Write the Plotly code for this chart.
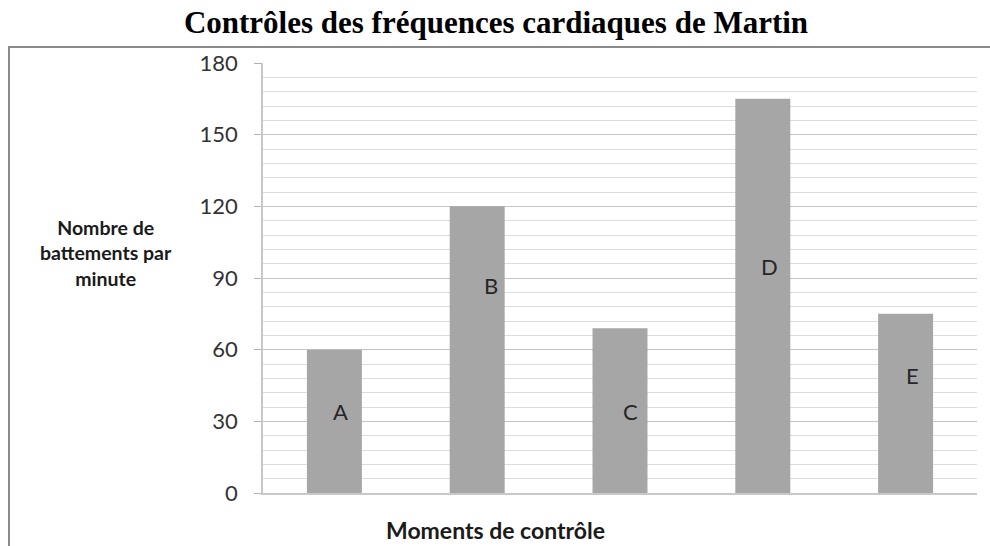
import plotly.graph_objects as go

categories = ["A", "B", "C", "D", "E"]
values = [60, 120, 69, 165, 75]
label_heights = [34, 87, 34, 95, 49]
label_shifts = [6, 14, 10, 7, 7]
y_ticks = [0, 30, 60, 90, 120, 150, 180]

W, H = 990, 546
L, R, T, B = 263, 13, 63, 53
pw, ph = W - L - R, H - T - B

def px_x(p):
    return (p - L) / pw

def px_y(p):
    return (H - B - p) / ph

fig = go.Figure()
fig.add_trace(go.Bar(
    x=categories, y=values, width=0.385,
    marker=dict(color="#a6a6a6", line=dict(width=0)),
    hoverinfo="x+y",
))

for c, h, s in zip(categories, label_heights, label_shifts):
    fig.add_annotation(x=c, y=h, text=c, showarrow=False, xshift=s,
                       font=dict(family="Lato", size=22, color="#262626"))

fig.add_annotation(xref="paper", yref="paper", x=px_x(106), y=px_y(253),
                   xanchor="center", yanchor="middle",
                   text="<b>Nombre de<br>battements par<br>minute</b>", showarrow=False,
                   align="center", font=dict(family="Lato", size=19.5, color="#1a1a1a"))
fig.add_annotation(xref="paper", yref="paper", x=px_x(495), y=px_y(530),
                   xanchor="center", yanchor="middle",
                   text="<b>Moments de contrôle</b>", showarrow=False,
                   font=dict(family="Lato", size=23, color="#1a1a1a"))

fig.add_shape(type="rect", xref="paper", yref="paper",
              x0=px_x(9), x1=px_x(1000), y0=px_y(560), y1=px_y(47),
              line=dict(color="#8a8a8a", width=2), fillcolor="rgba(0,0,0,0)", layer="below")

fig.update_layout(
    width=W, height=H,
    margin=dict(l=L, r=R, t=T, b=B),
    paper_bgcolor="white", plot_bgcolor="white",
    showlegend=False,
    title=dict(text="<b>Contrôles des fréquences cardiaques de Martin</b>",
               xref="container", x=496 / W, xanchor="center",
               yref="container", y=1 - 22 / H, yanchor="middle",
               font=dict(family="Liberation Serif", size=31, color="black")),
    xaxis=dict(showticklabels=False, showgrid=False, showline=True,
               linecolor="#c8c8c8", linewidth=2, ticks="", zeroline=False),
    yaxis=dict(range=[0, 180], tickvals=y_ticks, showgrid=True, gridcolor="#c4c4c4",
               gridwidth=1, showline=True, linecolor="#c8c8c8", linewidth=1.5,
               ticks="outside", ticklen=7, tickcolor="#b0b0b0", zeroline=False,
               ticklabelstandoff=12,
               tickfont=dict(family="Lato", size=22, color="#333333"),
               minor=dict(dtick=6, showgrid=True, gridcolor="#dcdcdc", gridwidth=1)),
)

fig.write_html("out.html", config={"displayModeBar": False},
               post_script="document.body.style.margin='0';")
